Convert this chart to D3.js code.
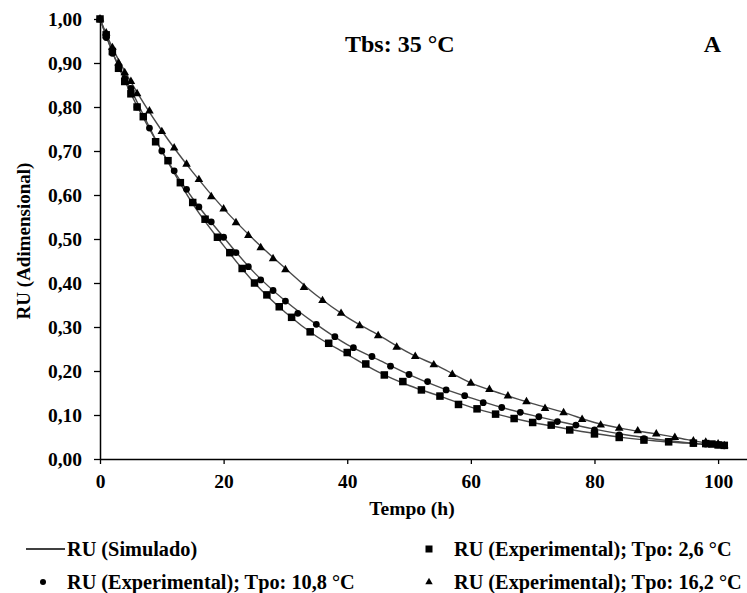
<!DOCTYPE html>
<html>
<head>
<meta charset="utf-8">
<script src="https://cdn.jsdelivr.net/npm/d3@7"></script>
<style>
  body { margin: 0; background: #fff; }
  svg { display: block; font-family: "Liberation Serif", "Times New Roman", serif; font-weight: bold; }
</style>
</head>
<body>
<div id="container"></div>
<script>
// tempo (h) e RU
const tSq = [0,1,2,3,4,5,6,7,9,11,13,15,17,19,21,23,25,27,29,31,34,37,40,43,46,49,52,55,58,61,64,67,70,73,76,80,84,88,92,96,98,99,100,101]
const ruSq = [1.0,0.964,0.926,0.888,0.858,0.83,0.80,0.778,0.721,0.678,0.628,0.583,0.545,0.504,0.469,0.433,0.40,0.373,0.346,0.322,0.289,0.263,0.242,0.216,0.191,0.176,0.157,0.143,0.124,0.114,0.102,0.092,0.083,0.077,0.066,0.057,0.049,0.043,0.039,0.036,0.035,0.034,0.032,0.031]

const tCi = [0,1,2,3,4,5,6,8,10,12,14,16,18,20,22,24,26,28,30,32,35,38,41,44,47,50,53,56,59,62,65,68,71,74,77,80,84,88,92,96,98,100,101]
const ruCi = [1.0,0.958,0.922,0.89,0.865,0.842,0.80,0.752,0.70,0.655,0.613,0.573,0.539,0.504,0.469,0.437,0.407,0.383,0.359,0.331,0.306,0.278,0.253,0.233,0.211,0.192,0.176,0.157,0.144,0.128,0.117,0.106,0.096,0.085,0.077,0.066,0.055,0.046,0.04,0.036,0.034,0.032,0.03]

const tTr = [0,1,2,3,4,5,6,8,10,12,14,16,18,20,22,24,26,28,30,33,36,39,42,45,48,51,54,57,60,63,66,69,72,75,78,81,84,87,90,93,96,98,100,101]
const ruTr = [1.0,0.968,0.935,0.9,0.878,0.858,0.83,0.791,0.744,0.707,0.67,0.635,0.596,0.568,0.537,0.508,0.48,0.455,0.43,0.39,0.36,0.331,0.303,0.28,0.254,0.233,0.214,0.192,0.172,0.158,0.143,0.13,0.115,0.105,0.09,0.077,0.07,0.064,0.057,0.049,0.041,0.038,0.034,0.03]

// curvas simuladas
const tSim = [0,2,5,10,15,20,25,30,35,40,45,50,55,60,65,70,75,80,85,90,95,101]
const simSq = [1.0,0.925,0.83,0.70,0.58,0.485,0.40,0.333,0.279,0.238,0.198,0.167,0.143,0.118,0.099,0.083,0.070,0.058,0.048,0.041,0.036,0.030]
const simCi = [1.0,0.925,0.84,0.70,0.592,0.504,0.423,0.359,0.306,0.26,0.226,0.192,0.163,0.139,0.117,0.099,0.083,0.068,0.055,0.045,0.037,0.030]
const simTr = [1.0,0.935,0.857,0.746,0.652,0.569,0.497,0.433,0.372,0.322,0.282,0.241,0.209,0.173,0.148,0.126,0.106,0.083,0.068,0.057,0.044,0.030]

const xTicks = [0,20,40,60,80,100]
const yTicks = [0,0.1,0.2,0.3,0.4,0.5,0.6,0.7,0.8,0.9,1.0]

let width = 747, height = 593

let svg = d3.select('#container').append('svg')
  .attr('width', width).attr('height', height)

let x = d3.scaleLinear().domain([0, 105]).range([100, 749])
let y = d3.scaleLinear().domain([0, 1]).range([459, 19])

const fmt = d => d3.format('.2f')(d).replace('.', ',')

// eixo y
let yAxis = svg.append('g')
  .attr('transform', 'translate(100,0)')
  .call(d3.axisLeft(y).tickValues(yTicks).tickFormat(fmt).tickSize(6).tickPadding(12).tickSizeOuter(0))
yAxis.select('.domain').attr('stroke', '#000').attr('stroke-width', 1.5)
yAxis.selectAll('.tick line').attr('stroke-width', 1.3)
yAxis.selectAll('text').style('font-size', '19.5px').style('font-family', '"Liberation Serif", serif').attr('fill', '#000')

// eixo x
let xAxis = svg.append('g')
  .attr('transform', 'translate(0,459)')
  .call(d3.axisBottom(x).tickValues(xTicks).tickSize(5).tickPadding(10).tickSizeOuter(0))
xAxis.select('.domain').attr('stroke', '#000').attr('stroke-width', 1.5)
xAxis.selectAll('.tick line').attr('stroke-width', 1.3)
xAxis.selectAll('text').style('font-size', '19.5px').style('font-family', '"Liberation Serif", serif').attr('fill', '#000')

// linhas simuladas
const line = d3.line()
  .x(d => x(d[0]))
  .y(d => y(d[1]))
  .curve(d3.curveMonotoneX)

;[simSq, simCi, simTr].forEach(sim => {
  svg.append('path')
    .datum(tSim.map((t, i) => [t, sim[i]]))
    .attr('d', line)
    .attr('fill', 'none')
    .attr('stroke', '#4a4a4a')
    .attr('stroke-width', 1.4)
})

// pontos experimentais
svg.append('g').selectAll('rect')
  .data(tSq.map((t, i) => [t, ruSq[i]]))
  .enter().append('rect')
  .attr('x', d => x(d[0]) - 3.75)
  .attr('y', d => y(d[1]) - 3.75)
  .attr('width', 7.5).attr('height', 7.5)
  .attr('fill', '#000')

svg.append('g').selectAll('circle')
  .data(tCi.map((t, i) => [t, ruCi[i]]))
  .enter().append('circle')
  .attr('cx', d => x(d[0]))
  .attr('cy', d => y(d[1]))
  .attr('r', 3.4)
  .attr('fill', '#000')

const tri = d3.symbol().type(d3.symbolTriangle).size(32)
svg.append('g').selectAll('path')
  .data(tTr.map((t, i) => [t, ruTr[i]]))
  .enter().append('path')
  .attr('d', tri)
  .attr('transform', d => `translate(${x(d[0])},${y(d[1])})`)
  .attr('fill', '#000')

// textos
svg.append('text')
  .attr('x', 345).attr('y', 52)
  .style('font-size', '24px')
  .text('Tbs: 35 °C')

svg.append('text')
  .attr('x', 721).attr('y', 52)
  .attr('text-anchor', 'end')
  .style('font-size', '24px')
  .text('A')

svg.append('text')
  .attr('x', 412).attr('y', 515)
  .attr('text-anchor', 'middle')
  .style('font-size', '19.5px')
  .text('Tempo (h)')

svg.append('text')
  .attr('transform', 'translate(30,241) rotate(-90)')
  .attr('text-anchor', 'middle')
  .style('font-size', '19px')
  .text('RU (Adimensional)')

// legenda
let legend = svg.append('g').attr('id', 'legend').style('font-size', '20.3px')

legend.append('line')
  .attr('x1', 26).attr('x2', 65).attr('y1', 549).attr('y2', 549)
  .attr('stroke', '#000').attr('stroke-width', 1.3)
legend.append('text').attr('x', 67).attr('y', 556).text('RU (Simulado)')

legend.append('circle').attr('cx', 43).attr('cy', 582).attr('r', 3).attr('fill', '#000')
legend.append('text').attr('x', 67).attr('y', 589).text('RU (Experimental); Tpo: 10,8 °C')

legend.append('rect').attr('x', 425.5).attr('y', 545.5).attr('width', 7).attr('height', 7).attr('fill', '#000')
legend.append('text').attr('x', 454).attr('y', 556).text('RU (Experimental); Tpo: 2,6 °C')

legend.append('path').attr('d', d3.symbol().type(d3.symbolTriangle).size(24))
  .attr('transform', 'translate(429,582)').attr('fill', '#000')
legend.append('text').attr('x', 454).attr('y', 589).text('RU (Experimental); Tpo: 16,2 °C')
</script>
</body>
</html>
